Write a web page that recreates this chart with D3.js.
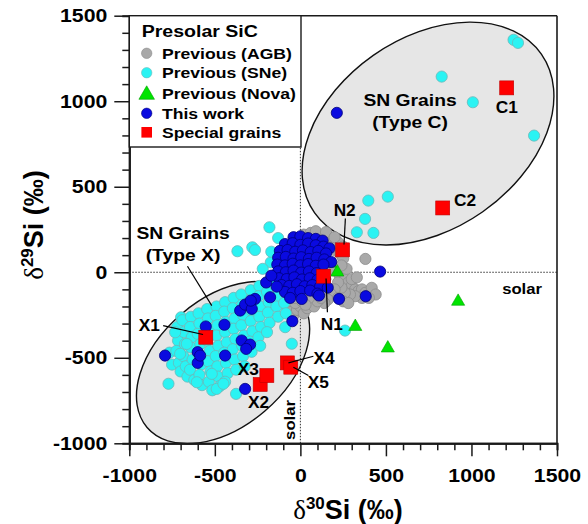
<!DOCTYPE html>
<html><head><meta charset="utf-8">
<script src="https://cdn.jsdelivr.net/npm/d3@7"></script>
<style>body{margin:0;background:#fff}text{font-family:"Liberation Sans",Arial,sans-serif;font-weight:bold;fill:#000}</style>
</head><body>
<svg id="chart" width="588" height="524"></svg>
<script>
// ---- data: [delta30Si, delta29Si] in permil ----
const agbPoints = [
  [20,220],[60,230],[100,215],[140,200],[180,190],[220,175],[250,150],[40,180],[80,170],[120,160],
  [160,150],[200,130],[230,110],[250,80],[380,78],[90,240],[150,235],[200,205],
  [180,40],[200,10],[230,-20],[260,-40],[280,-60],[300,-80],[320,-100],[340,-110],[360,-100],[380,-120],
  [417,-91],[440,-130],[400,-150],[360,-150],[320,-140],[290,-130],[260,-120],[240,-90],[220,-60],[200,-100],
  [180,-130],[160,-160],[140,-180],[220,-150],[250,-170],[280,-180],[300,-40],[330,-30],[270,20],[240,40],
  [-80,-200],[-60,-230],[-40,-250],[-20,-220],[0,-200],[20,-240],[40,-210],[60,-180],[80,-200],[100,-170],
  [120,-150],[-70,-170],[-30,-180],[10,-170],[50,-150],[-90,-130],[-120,-160],[-30,-150],[30,-190],[95,-125]
];
const snePoints = [
  [-765,-470],[-750,-540],[-771,-652],[-697,-263],
  [-720,-320],[-715,-400],[-725,-460],[-710,-530],[-700,-580],
  [-690,-280],[-680,-350],[-675,-420],[-685,-490],[-670,-550],[-660,-610],
  [-640,-260],[-645,-320],[-635,-380],[-640,-440],[-630,-510],[-645,-570],[-620,-630],
  [-595,-240],[-590,-300],[-600,-360],[-585,-420],[-595,-480],[-580,-540],[-590,-600],[-575,-660],
  [-545,-215],[-540,-270],[-535,-330],[-545,-400],[-530,-460],[-540,-520],[-525,-580],[-535,-640],[-515,-690],
  [-490,-200],[-495,-255],[-485,-310],[-490,-370],[-480,-430],[-495,-490],[-485,-550],[-480,-610],[-470,-665],
  [-440,-175],[-445,-230],[-435,-290],[-440,-350],[-430,-410],[-445,-470],[-435,-530],[-425,-590],[-440,-640],
  [-390,-150],[-395,-210],[-385,-270],[-390,-330],[-380,-390],[-395,-450],[-385,-510],[-375,-570],[-376,-711],
  [-345,-130],[-340,-190],[-335,-250],[-345,-310],[-330,-370],[-340,-430],[-335,-490],[-325,-550],
  [-290,-105],[-295,-165],[-285,-225],[-290,-285],[-280,-345],[-295,-405],[-285,-465],
  [-240,-80],[-245,-140],[-235,-200],[-240,-260],[-230,-320],[-245,-380],[-235,-430],
  [-190,-55],[-195,-115],[-185,-175],[-190,-235],[-180,-295],[-195,-350],
  [-140,-20],[-145,-80],[-135,-140],[-140,-200],[-130,-260],
  [-90,-120],[-95,-180],[-85,-240],
  [-605,-643],[-518,-594],[-489,-682],[-450,-652],[-703,-477],[-732,-351],[-664,-419],
  [-368,123],[-281,146],[-181,263],[-173,58],[-265,130],[-220,20],[-147,-48],[-170,120],[-130,200],
  [-89,-321],[-50,-418],[261,-341],
  [1246,1359],[1272,1341],[826,1144],[1008,994],[1366,799],
  [397,419],[511,442],[378,312],[330,234],[427,230]
];
const novaPoints = [[216,6],[173,58],[140,-60],[321,-312],[511,-438],[922,-165]];
const thisWorkPoints = [
  [-40,205],[0,210],[45,200],[90,195],[130,185],
  [-90,165],[-45,170],[0,160],[45,168],[90,158],[135,150],[170,140],
  [-120,125],[-75,130],[-30,120],[15,128],[60,118],[105,125],[150,110],
  [-130,85],[-85,90],[-40,80],[5,88],[50,78],[95,85],[140,75],[180,60],
  [-135,45],[-90,40],[-45,50],[0,40],[45,48],[90,38],[135,45],
  [-130,5],[-85,0],[-40,10],[5,-2],[50,5],[95,-5],
  [-125,-35],[-80,-40],[-35,-30],[10,-42],[55,-35],[100,-45],[145,-40],
  [-110,-75],[-65,-80],[-20,-70],[25,-82],[70,-75],[115,-85],[160,-90],
  [-90,-115],[-45,-120],[0,-110],[57,-107],[100,-125],
  [-60,-150],[8,-156],[109,-136],
  [-177,-146],[-138,-84],[-200,-60],[-170,-20],
  [213,932],[466,4],[382,-140],[226,-156],[-47,-286],
  [-444,-307],[-553,-317],[-600,-467],[-600,-530],[-440,-487],[-343,-399],[-294,-423],[-317,-448],
  [-352,-224],[-323,-189],[-265,-156],[-586,-487],[-791,-487],[-323,-682],
  [-284,-214],[-290,-166]
];
const specialNames = ["C1","C2","N2","N1","X1","X2","X3","X4","X5"];
const specialPoints = [[1206,1078],[832,376],[247,131],[135,-23],[-553,-380],[-235,-656],[-196,-604],[-76,-530],[-56,-555]];

const majorTicks = [-1000,-500,0,500,1000,1500];
const minorTicks = [-900,-800,-700,-600,-400,-300,-200,-100,100,200,300,400,600,700,800,900,1100,1200,1300,1400];
const legendLabels = ["Previous (AGB)","Previous (SNe)","Previous (Nova)","This work","Special grains"];

// ---- layout ----
const svg = d3.select("#chart");
const x = d3.scaleLinear().domain([-1000,1500]).range([129.3,557]);
const y = d3.scaleLinear().domain([-1000,1500]).range([443.3,15.7]);
const k = (x(1500)-x(-1000))/2500;
const SX = 1.15;

function label(g, str, px, py, size, anchor, sx) {
  return g.append("text")
    .attr("transform", `translate(${px},${py}) scale(${sx||SX},1)`)
    .attr("text-anchor", anchor || "middle")
    .attr("font-size", size)
    .text(str);
}

// grain-type regions
const regions = [
  {cx:-452, cy:-528, a:584, b:374, angle:40.5},
  {cx:746, cy:811, a:809, b:558, angle:35}
];
svg.append("g").selectAll("ellipse").data(regions).join("ellipse")
  .attr("transform", d => `translate(${x(d.cx)},${y(d.cy)}) rotate(${-d.angle})`)
  .attr("rx", d => d.a*k).attr("ry", d => d.b*k)
  .attr("fill", "#e6e6e6").attr("stroke", "#111").attr("stroke-width", 1.4);

// solar reference lines
const ref = svg.append("g").attr("stroke", "#333").attr("stroke-width", 1).attr("stroke-dasharray", "1.5,1.5");
ref.append("line").attr("x1", x(-1000)).attr("x2", x(1500)).attr("y1", y(0)).attr("y2", y(0));
ref.append("line").attr("x1", x(0)).attr("x2", x(0)).attr("y1", y(-1000)).attr("y2", y(1500));

// markers
const R = 5.6;
function circles(data, fill, stroke) {
  svg.append("g").selectAll("circle").data(data).join("circle")
    .attr("cx", d => x(d[0])).attr("cy", d => y(d[1])).attr("r", R)
    .attr("fill", fill).attr("stroke", stroke).attr("stroke-width", 0.8);
}
circles(agbPoints, "#a9a9a9", "#8c8c8c");
circles(snePoints, "#2af3f3", "#69b9b9");
const tri = d3.symbol().type(d3.symbolTriangle).size(75);
svg.append("g").selectAll("path").data(novaPoints).join("path")
  .attr("d", tri).attr("transform", d => `translate(${x(d[0])},${y(d[1])+1})`)
  .attr("fill", "#00e400").attr("stroke", "#00a000").attr("stroke-width", 0.6);
circles(thisWorkPoints, "#0a0ae0", "#00007a");
svg.append("g").selectAll("rect").data(specialPoints).join("rect")
  .attr("x", d => x(d[0])-7).attr("y", d => y(d[1])-7).attr("width", 14).attr("height", 14)
  .attr("fill", "#ff0000").attr("stroke", "#c00000").attr("stroke-width", 0.6);

// leader lines and grain labels
const leaders = [
  [[263,314],[255,162]],
  [[150,-37],[158,-234]],
  [[-802,-312],[-569,-364]],
  [[-70,-530],[76,-491]],
  [[-41,-555],[47,-604]],
  [[-660,35],[-518,-195]]
];
svg.append("g").selectAll("line").data(leaders).join("line")
  .attr("x1", d => x(d[0][0])).attr("y1", d => y(d[0][1]))
  .attr("x2", d => x(d[1][0])).attr("y2", d => y(d[1][1]))
  .attr("stroke", "#000").attr("stroke-width", 1.2);

const labelPos = {C1:[1206,964],C2:[963,419],N2:[259,362],N1:[184,-302],X1:[-883,-307],X2:[-245,-760],X3:[-304,-565],X4:[139,-500],X5:[105,-643]};
const ann = svg.append("g");
specialNames.forEach(n => {
  const p = labelPos[n];
  label(ann, n, x(p[0]), y(p[1]) + 5.8, 16, "middle", 1.08);
});
label(ann, "SN Grains", x(641), y(1009) + 6, 16.5, "middle", 1.17);
label(ann, "(Type C)", x(641), y(877) + 6, 16.5, "middle", 1.17);
label(ann, "SN Grains", x(-686), y(232) + 6, 16.5, "middle", 1.17);
label(ann, "(Type X)", x(-686), y(98) + 6, 16.5, "middle", 1.17);
label(ann, "solar", 542, y(-95) + 5, 14.5, "end");
ann.append("text").attr("transform", `translate(${x(-60)+5},${y(-980)}) rotate(-90) scale(${SX},1)`)
  .attr("font-size", 14.5).attr("text-anchor", "start").text("solar");

// axes
const axes = svg.append("g");
const fmt = d => String(d);
const gxMinor = axes.append("g").attr("transform", `translate(0,${y(-1000)})`)
  .call(d3.axisBottom(x).tickValues(minorTicks).tickSize(7).tickFormat(""));
const gx = axes.append("g").attr("transform", `translate(0,${y(-1000)})`)
  .call(d3.axisBottom(x).tickValues(majorTicks).tickSize(13).tickSizeOuter(0).tickFormat(fmt));
const gyMinor = axes.append("g").attr("transform", `translate(${x(-1000)},0)`)
  .call(d3.axisLeft(y).tickValues(minorTicks).tickSize(7).tickFormat(""));
const gy = axes.append("g").attr("transform", `translate(${x(-1000)},0)`)
  .call(d3.axisLeft(y).tickValues(majorTicks).tickSize(15).tickSizeOuter(0).tickFormat(fmt));
[gxMinor, gx, gyMinor, gy].forEach(g => {
  g.selectAll(".domain").attr("stroke", "#1a1a1a").attr("stroke-width", 2);
  g.selectAll(".tick line").attr("stroke", "#1a1a1a").attr("stroke-width", 1.5);
});
gx.selectAll(".tick text").attr("font-size", 18.5).attr("font-family", null)
  .attr("y", 25.5).attr("transform", `scale(${SX},1)`).attr("fill", "#000");
gy.selectAll(".tick text").attr("font-size", 18.5).attr("font-family", null)
  .attr("x", -22/SX).attr("transform", `scale(${SX},1)`).attr("fill", "#000");

// frame (top and right)
const frame = svg.append("g").attr("stroke", "#1a1a1a").attr("stroke-width", 1.6).attr("fill", "none");
frame.append("line").attr("x1", x(-1000)).attr("x2", x(1500)).attr("y1", y(1500)).attr("y2", y(1500));
frame.append("line").attr("x1", x(1500)).attr("x2", x(1500)).attr("y1", y(1500)).attr("y2", y(-1000));

// axis titles
function title(g, iso) {
  g.append("tspan").attr("font-family", "'Liberation Serif','DejaVu Serif',serif").attr("font-weight", "normal").text("\u03B4");
  g.append("tspan").attr("font-size", 17).attr("dy", -10).text(iso);
  g.append("tspan").attr("dy", 10).text("Si (\u2030)");
}
const xt = svg.append("text").attr("x", 348).attr("y", 519).attr("text-anchor", "middle").attr("font-size", 27);
title(xt, "30");
const yt = svg.append("text").attr("transform", "translate(43,225) rotate(-90)").attr("text-anchor", "middle").attr("font-size", 27);
title(yt, "29");

// legend
const lg = svg.append("g");
lg.append("rect").attr("x", x(-1000)).attr("y", y(1500)).attr("width", 301 - x(-1000)).attr("height", 147 - y(1500))
  .attr("fill", "#fff").attr("stroke", "#1a1a1a").attr("stroke-width", 1.4);
label(lg, "Presolar SiC", 141.7, 36.7, 17, "start");
const rowY = [53.3, 72.7, 93.3, 113.3, 132.3];
const legendMarks = [
  {shape:"circle", fill:"#a9a9a9", stroke:"#8c8c8c"},
  {shape:"circle", fill:"#2af3f3", stroke:"#69b9b9"},
  {shape:"triangle", fill:"#00e400", stroke:"#00a000"},
  {shape:"circle", fill:"#0a0ae0", stroke:"#00007a"},
  {shape:"square", fill:"#ff0000", stroke:"#c00000"}
];
legendLabels.forEach((t, i) => {
  const m = legendMarks[i], cy = rowY[i], cx = 146.7;
  if (m.shape === "circle") lg.append("circle").attr("cx", cx).attr("cy", cy).attr("r", 5.2).attr("fill", m.fill).attr("stroke", m.stroke).attr("stroke-width", 0.6);
  if (m.shape === "triangle") lg.append("path").attr("d", d3.symbol().type(d3.symbolTriangle).size(105)()).attr("transform", `translate(${cx},${cy+1.5})`).attr("fill", m.fill).attr("stroke", m.stroke).attr("stroke-width", 0.6);
  if (m.shape === "square") lg.append("rect").attr("x", cx-5.3).attr("y", cy-5.3).attr("width", 10.6).attr("height", 10.6).attr("fill", m.fill);
  label(lg, t, 162, cy + 5.5, 15.3, "start");
});
</script>
</body></html>
